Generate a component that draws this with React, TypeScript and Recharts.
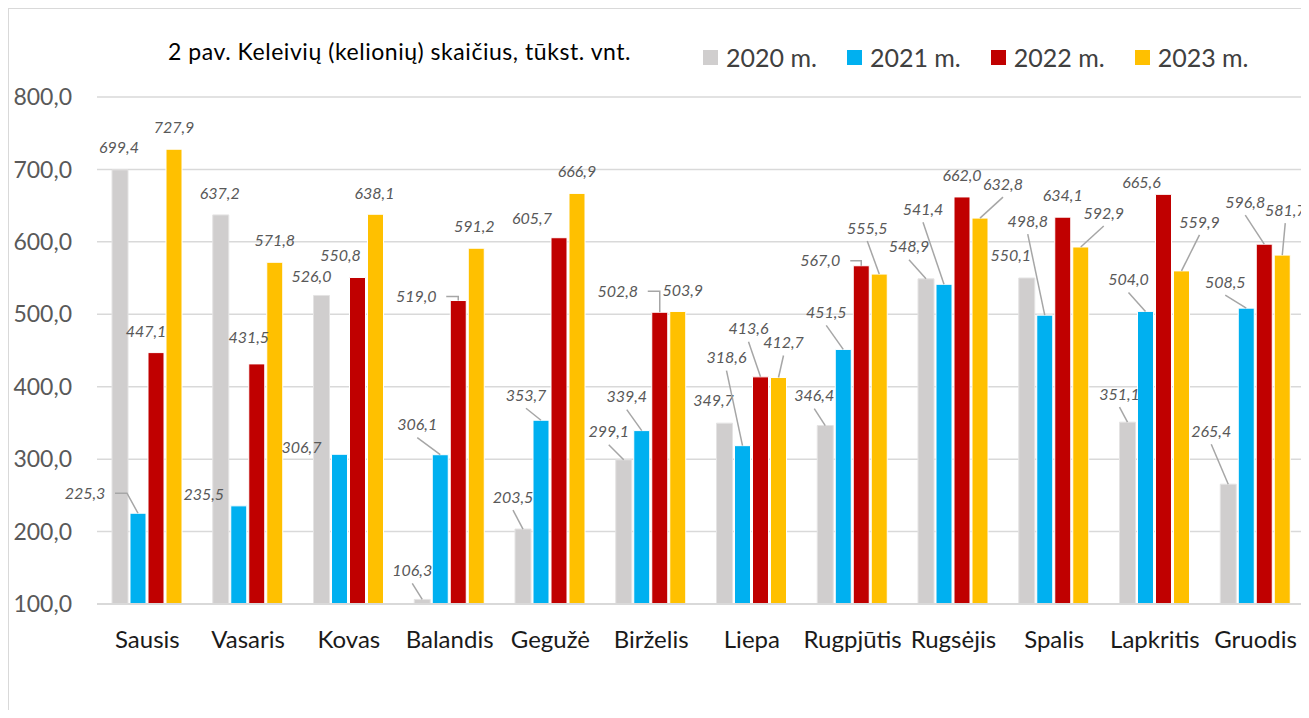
import React from 'react';
import { BarChart, Bar, XAxis, YAxis, CartesianGrid, LabelList } from 'recharts';

const months = ['Sausis', 'Vasaris', 'Kovas', 'Balandis', 'Gegužė', 'Birželis', 'Liepa', 'Rugpjūtis', 'Rugsėjis', 'Spalis', 'Lapkritis', 'Gruodis'];

const y2020 = [699.4, 637.2, 526.0, 106.3, 203.5, 299.1, 349.7, 346.4, 548.9, 550.1, 351.1, 265.4];
const y2021 = [225.3, 235.5, 306.7, 306.1, 353.7, 339.4, 318.6, 451.5, 541.4, 498.8, 504.0, 508.5];
const y2022 = [447.1, 431.5, 550.8, 519.0, 605.7, 502.8, 413.6, 567.0, 662.0, 634.1, 665.6, 596.8];
const y2023 = [727.9, 571.8, 638.1, 591.2, 666.9, 503.9, 412.7, 555.5, 632.8, 592.9, 559.9, 581.7];

const yTicks = [100, 200, 300, 400, 500, 600, 700, 800];

// label placement like the Excel original: [dx, dy, leader] relative to bar top centre
// leader: 0 none, 1 straight line, 2 elbow
const off2020 = [[-1, -22, 0], [-1, -22, 0], [-10, -19, 0], [-10, -29, 1], [-10, -32, 1], [-15, -28, 1], [-11, -23, 0], [-11, -30, 1], [-17, -32, 1], [-16, -23, 0], [-8, -28, 1], [-17, -53, 1]];
const off2021 = [[-53, -20, 2], [-35, -11, 0], [-38, -7, 0], [-23, -30, 1], [-15, -25, 1], [-15, -34, 1], [-16, -88, 1], [-17, -37, 1], [-21, -75, 1], [-17, -94, 1], [-17, -32, 1], [-21, -26, 1]];
const off2022 = [[-10, -21, 0], [-8, -26, 0], [-17, -22, 0], [-42, -4, 2], [-27, -19, 0], [-42, -21, 2], [-12, -48, 1], [-41, -5, 2], [0, -22, 0], [0, -22, 0], [-22, -12, 0], [-19, -42, 1]];
const off2023 = [[0, -22, 0], [0, -22, 0], [-1, -21, 0], [-2, -22, 0], [0, -22, 0], [5, -21, 0], [5, -35, 1], [-12, -46, 1], [23, -34, 1], [23, -34, 1], [18, -49, 1], [3, -45, 1]];

const series = [
  { key: 'y2020', name: '2020 m.', color: '#D0CECE', stroke: '#E4E3E3', offsets: off2020 },
  { key: 'y2021', name: '2021 m.', color: '#00B0F0', stroke: '#ffffff', offsets: off2021 },
  { key: 'y2022', name: '2022 m.', color: '#C00000', stroke: '#ffffff', offsets: off2022 },
  { key: 'y2023', name: '2023 m.', color: '#FFC000', stroke: '#ffffff', offsets: off2023 },
];

const data = months.map((m, i) => ({
  month: m,
  y2020: y2020[i],
  y2021: y2021[i],
  y2022: y2022[i],
  y2023: y2023[i],
}));

const fmt = (v: number) => v.toFixed(1).replace('.', ',');
const FONT = 'Lato, "Open Sans", sans-serif';

const makeLabel = (offsets: number[][]) => (props: any) => {
  const { x, y, width, value, index } = props;
  const o = offsets[index] || [0, -22, 0];
  const cx = Number(x) + Number(width) / 2;
  const top = Number(y);
  const lx = cx + o[0];
  const ly = top + o[1];
  let leader = null;
  if (o[2] === 1) {
    leader = <line x1={lx} y1={ly + 13} x2={cx} y2={top} stroke="#A6A6A6" strokeWidth={1.5} />;
  } else if (o[2] === 2) {
    const sx = lx + 30;
    const ex = Math.min(cx, sx + 12);
    leader = <polyline points={`${sx},${ly} ${ex},${ly} ${cx},${top}`} fill="none" stroke="#A6A6A6" strokeWidth={1.5} />;
  }
  return (
    <g>
      {leader}
      <text x={lx} y={ly} dy="0.35em" textAnchor="middle" fontFamily={FONT} fontStyle="italic" fontSize={16} fill="#595959">
        {fmt(value)}
      </text>
    </g>
  );
};

export default function App() {
  return (
    <div style={{ position: 'relative', width: 1301, height: 702, border: '1px solid #D9D9D9', borderRight: 'none', borderBottom: 'none', boxSizing: 'border-box', background: '#fff', fontFamily: FONT }}>
      <style>{'body{overflow:hidden}'}</style>
      <div style={{ position: 'absolute', left: 159, top: 28, fontSize: 23, letterSpacing: 0.55, color: '#000', whiteSpace: 'nowrap' }}>
        2 pav. Keleivių (kelionių) skaičius, tūkst. vnt.
      </div>
      <div style={{ position: 'absolute', left: 694, top: 33, display: 'flex', alignItems: 'center', fontSize: 25, color: '#404040', whiteSpace: 'nowrap' }}>
        {series.map((s) => (
          <div key={s.key} style={{ display: 'flex', alignItems: 'center', marginRight: 30 }}>
            <span style={{ display: 'inline-block', width: 15, height: 15, background: s.color, marginRight: 8 }} />
            <span>{s.name}</span>
          </div>
        ))}
      </div>
      <BarChart
        width={1300}
        height={700}
        data={data}
        margin={{ top: 88, right: 3, bottom: 45, left: 0 }}
        barSize={16}
        barGap={2}
      >
        <CartesianGrid vertical={false} stroke="#D9D9D9" strokeWidth={1.5} />
        <XAxis
          dataKey="month"
          height={60}
          tickLine={false}
          tickSize={0}
          tickMargin={27}
          axisLine={{ stroke: '#D9D9D9', strokeWidth: 2 }}
          tick={{ fontSize: 24, fill: '#1A1A1A', fontFamily: FONT }}
          interval={0}
        />
        <YAxis
          width={88}
          domain={[100, 800]}
          ticks={yTicks}
          allowDataOverflow
          tickLine={false}
          axisLine={false}
          tickSize={0}
          tickMargin={25}
          tickFormatter={fmt}
          tick={{ fontSize: 23, fill: '#595959', fontFamily: FONT }}
        />
        {series.map((s) => (
          <Bar key={s.key} dataKey={s.key} name={s.name} fill={s.color} stroke={s.stroke} strokeWidth={1} isAnimationActive={false}>
            <LabelList dataKey={s.key} content={makeLabel(s.offsets)} />
          </Bar>
        ))}
      </BarChart>
    </div>
  );
}
